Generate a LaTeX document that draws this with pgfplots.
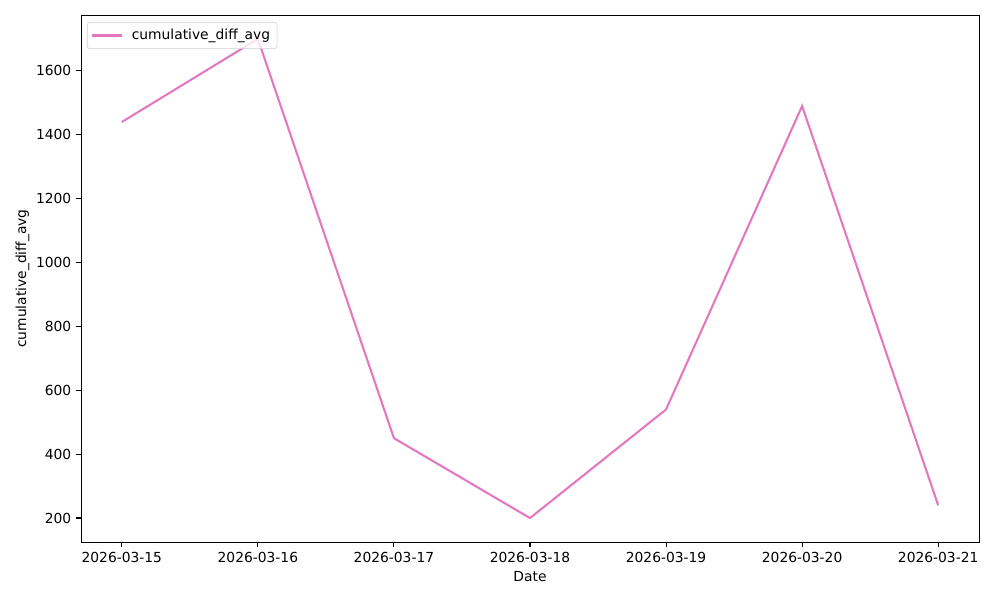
\documentclass[border=0pt]{standalone}
\usepackage{fontspec}
\setmainfont{DejaVu Sans}
\usepackage{pgfplots}
\pgfplotsset{compat=1.18}
\definecolor{tabpink}{HTML}{E377C2}
\begin{document}
\fontsize{10pt}{12pt}\selectfont
\begin{tikzpicture}
\begin{axis}[
  scale only axis,
  width=8.98in, height=5.27in,
  xmin=-0.3, xmax=6.3,
  ymin=125, ymax=1775,
  xtick={0,1,2,3,4,5,6},
  xticklabels={2026-03-15,2026-03-16,2026-03-17,2026-03-18,2026-03-19,2026-03-20,2026-03-21},
  ytick={200,400,600,800,1000,1200,1400,1600},
  /pgf/number format/assume math mode=true,
  /pgf/number format/set thousands separator={},
  tick align=outside,
  major tick length=3.5pt,
  tick style={black, line width=0.8pt},
  axis line style={line width=0.7pt},
  xtick pos=bottom, ytick pos=left,
  tick label style={font=\fontsize{10pt}{12pt}\selectfont},
  label style={font=\fontsize{10pt}{12pt}\selectfont},
  xlabel={Date},
  ylabel={cumulative\_diff\_avg},
  xlabel style={yshift=0pt},
  ylabel style={yshift=-2pt},
  legend style={at={(0,1)}, anchor=north west, xshift=0.06in, yshift=-0.07in,
    draw=white!80!black, rounded corners=2pt, fill=white, fill opacity=0.8, text opacity=1,
    font=\fontsize{10pt}{12pt}\selectfont, inner xsep=3pt, inner ysep=3pt,
    /tikz/every odd column/.append style={column sep=4pt}},
  legend cell align=left,
  legend image code/.code={\draw[#1] (0in,0in) -- (0.3in,0in);},
]
\addplot[tabpink, line width=1.5pt] coordinates {
  (0,1440) (1,1700) (2,450) (3,200) (4,540) (5,1490) (6,240)
};
\addlegendentry{cumulative\_diff\_avg}
\end{axis}
\pgfresetboundingbox
\path ([shift={(-0.81in,-0.58in)}]current axis.south west) rectangle ([shift={(0.21in,0.15in)}]current axis.north east);
\end{tikzpicture}
\end{document}
